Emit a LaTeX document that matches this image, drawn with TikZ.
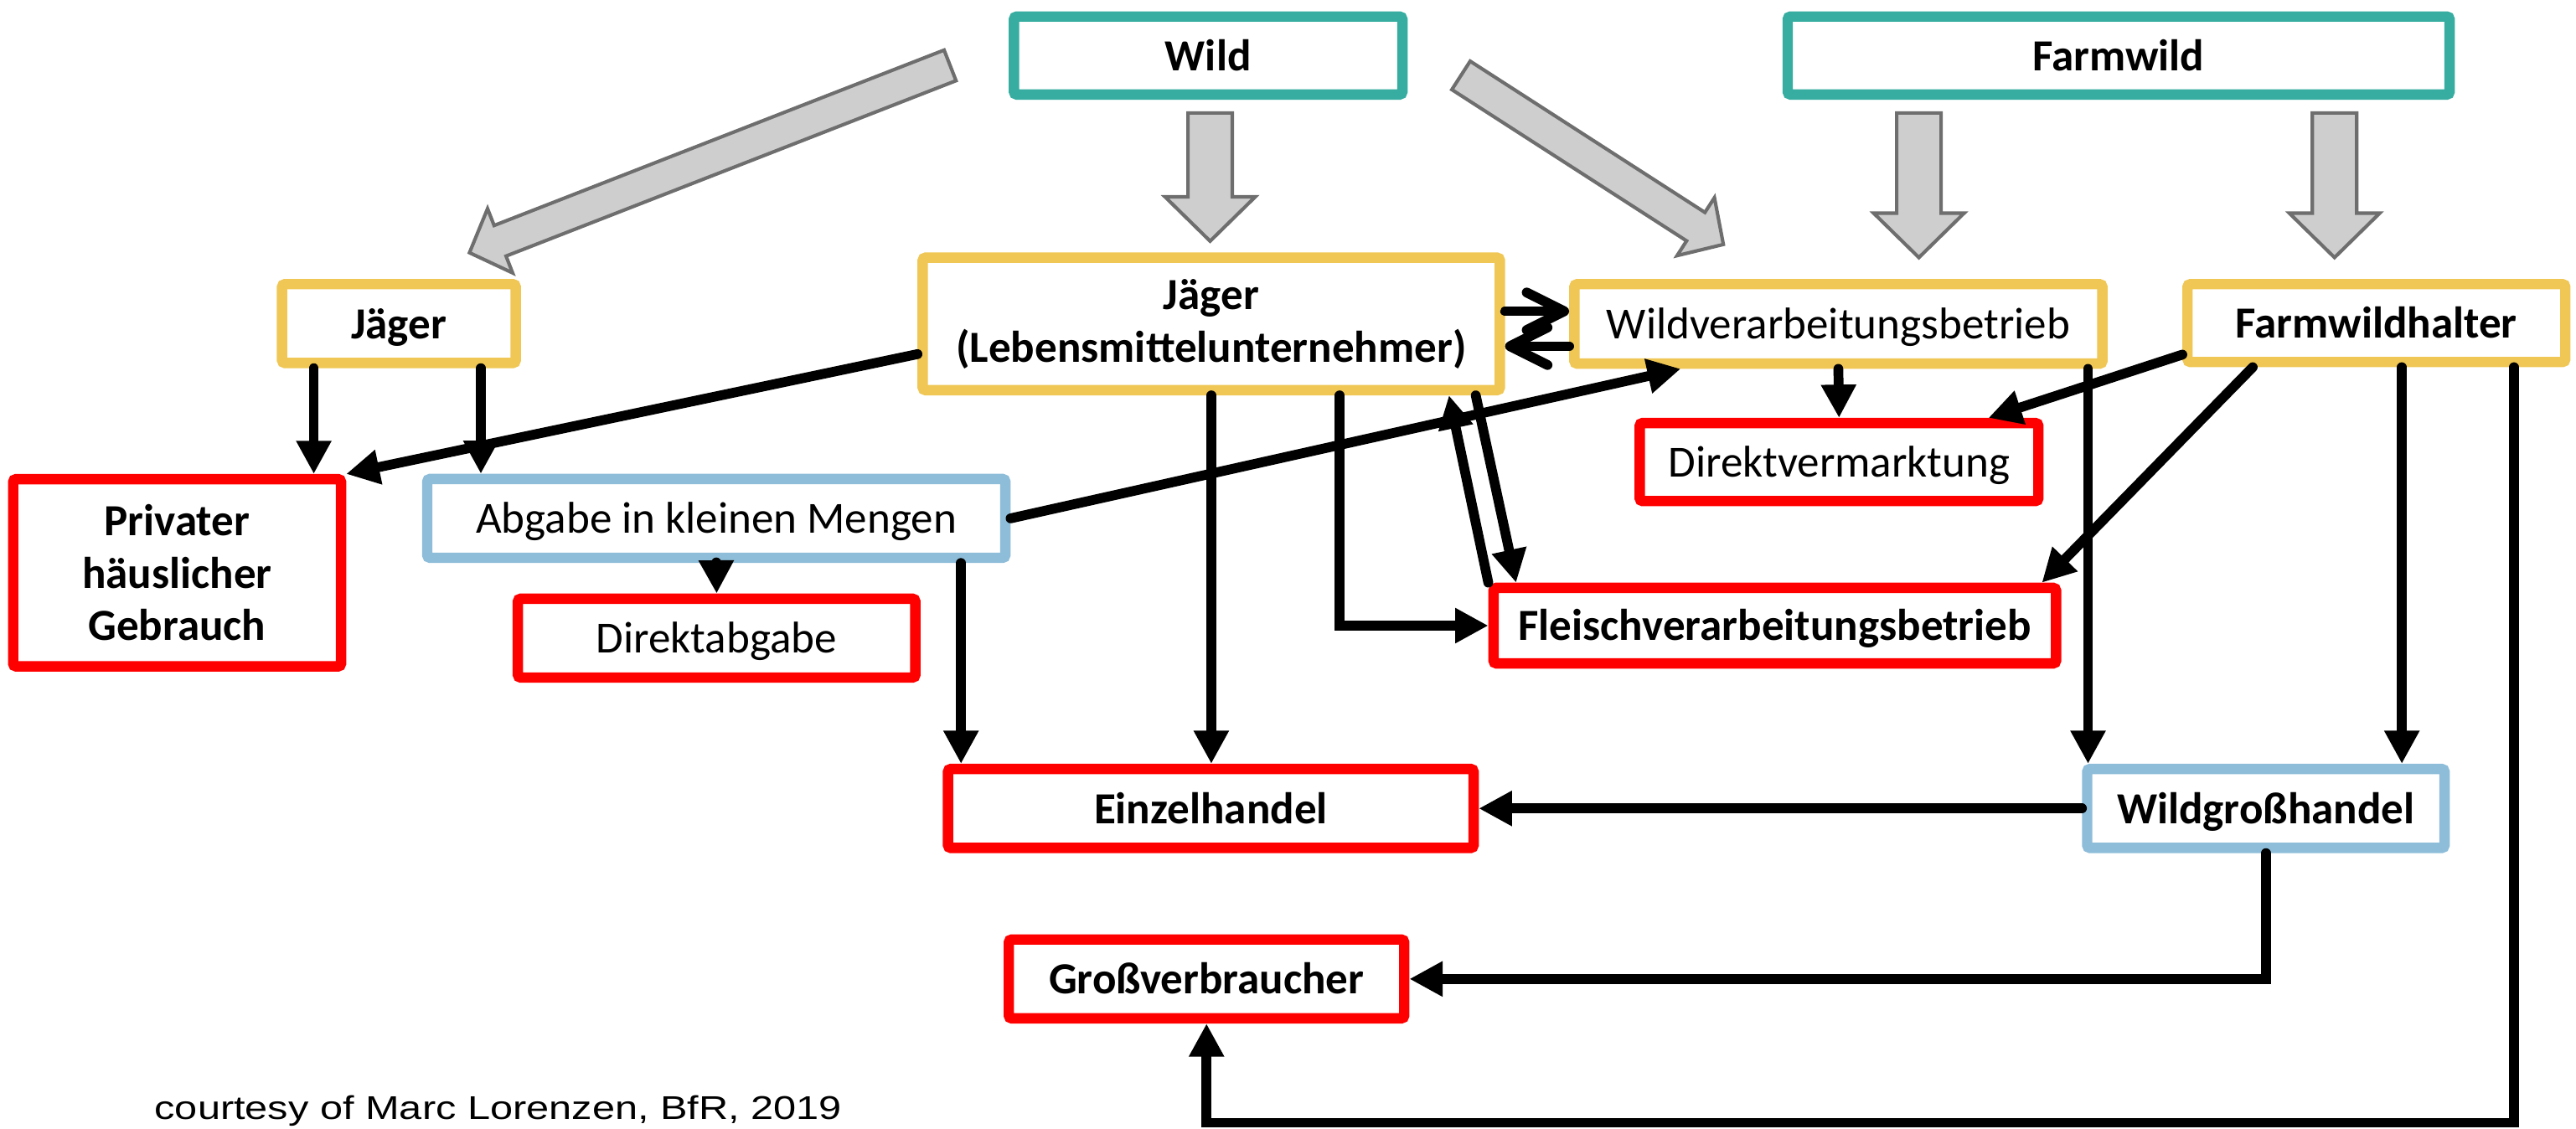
\documentclass[tikz,border=0pt]{standalone}
\usepackage{fontspec}
\setmainfont{Carlito}
\newfontfamily\notefont[FakeStretch=1.24]{Liberation Sans}
\usetikzlibrary{arrows.meta}
\definecolor{wildteal}{HTML}{36ADA0}
\definecolor{actoryellow}{HTML}{F0C755}
\definecolor{outletred}{HTML}{FF0000}
\definecolor{tradeblue}{HTML}{8EBDD9}
\definecolor{bigfill}{HTML}{CECECE}
\definecolor{bigedge}{HTML}{6E6E6E}
\tikzset{box/.style={draw, line width=3.6pt, rounded corners=1pt, fill=white,
           align=center, inner sep=0pt, font=\fontsize{15.4}{18.2}\selectfont},
         oneline/.style={text height=11.2pt, text depth=0.8pt},
         source/.style={box, draw=wildteal},
         actor/.style={box, draw=actoryellow},
         outlet/.style={box, draw=outletred},
         trade/.style={box, draw=tradeblue},
         flow/.style={line width=3.4pt, line cap=round, -{Triangle[length=11.5pt,width=11.5pt]}},
         swap/.style={line width=3.4pt, line cap=round, -{Straight Barb[round,length=13pt,width=13pt]}},
         bigarrow/.style={fill=bigfill, draw=bigedge, line width=1.2pt},
         }
% tail, angle, length, half shaft, half head, head length
\newcommand{\grayarrow}[6]{\draw[bigarrow, shift={#1}, rotate=#2]
  (0,-#4) -- (#3-#6,-#4) -- (#3-#6,-#5) -- (#3,0) -- (#3-#6,#5) -- (#3-#6,#4) -- (0,#4) -- cycle;}

\begin{document}
\begin{tikzpicture}[x=0.02cm, y=-0.02cm]
\useasboundingbox (0,0) rectangle (1568,687);
% origin
\node[source, oneline, minimum width=4.73cm, minimum height=0.95cm] (wild) at (735.4,33.8) {\textbf{Wild}};
\node[source, oneline, minimum width=8.06cm, minimum height=0.95cm] (farmwild) at (1289.6,33.8) {\textbf{Farmwild}};
\grayarrow{(578.3,39.8)}{201.3}{314}{10}{21}{20}
\grayarrow{(736.6,68.8)}{-90}{78}{13.5}{27.5}{27}
\grayarrow{(889.3,45.9)}{-32.8}{190}{10.3}{21}{20}
\grayarrow{(1168,68.8)}{-90}{88}{13.5}{27.5}{27}
\grayarrow{(1421,68.8)}{-90}{88}{13.5}{27.5}{27}
% actors
\node[actor, oneline, minimum width=2.846cm, minimum height=0.96cm] (jaeger) at (242.8,197) {\textbf{Jäger}};
\node[actor, minimum width=7.028cm, minimum height=1.614cm] (jlu) at (737.3,197.2) {\textbf{Jäger}\\\textbf{(Lebensmittelunternehmer)}};
\node[actor, oneline, minimum width=6.43cm, minimum height=0.968cm] (wvb) at (1119,197.2) {Wildverarbeitungsbetrieb};
\node[actor, oneline, minimum width=4.6cm, minimum height=0.948cm] (fwh) at (1446.5,196.7) {\textbf{Farmwildhalter}};
% outlets
\node[outlet, minimum width=3.992cm, minimum height=2.28cm] (priv) at (107.8,348.7) {\textbf{Privater}\\\textbf{häuslicher}\\\textbf{Gebrauch}};
\node[trade, oneline, minimum width=7.04cm, minimum height=0.96cm] (abg) at (436,315.6) {Abgabe in kleinen Mengen};
\node[outlet, oneline, minimum width=4.84cm, minimum height=0.96cm] (dab) at (436.2,388.5) {Direktabgabe};
\node[outlet, oneline, minimum width=4.854cm, minimum height=0.95cm] (dvm) at (1119.4,281.3) {Direktvermarktung};
\node[outlet, oneline, minimum width=6.85cm, minimum height=0.92cm] (fvb) at (1080.3,380.9) {\textbf{Fleischverarbeitungsbetrieb}};
\node[outlet, oneline, minimum width=6.4cm, minimum height=0.962cm] (ezh) at (737,492.2) {\textbf{Einzelhandel}};
\node[trade, oneline, minimum width=4.352cm, minimum height=0.962cm] (wgh) at (1379.2,492.2) {\textbf{Wildgroßhandel}};
\node[outlet, oneline, minimum width=4.814cm, minimum height=0.96cm] (gvb) at (734.4,596) {\textbf{Großverbraucher}};
\coordinate (floor) at (734.4,683.5);
\node[anchor=base west, inner sep=0pt, font=\notefont\fontsize{11.4}{13}\selectfont] (credit) at (93.8,681.6) {courtesy of Marc Lorenzen, BfR, 2019};
% Jäger
\draw[flow] ([xshift=-1.036cm]jaeger.south) coordinate (p1) -- (p1 |- priv.north);
\draw[flow] ([xshift=0.998cm]jaeger.south) coordinate (p2) -- (p2 |- abg.north);
% Jäger (Lebensmittelunternehmer)
\draw[flow] ([yshift=-0.368cm]jlu.west) -- (priv.north east);
\draw[swap] ([yshift=0.154cm]jlu.east) -- ([yshift=0.154cm]wvb.west);
\draw[swap] ([yshift=-0.272cm]wvb.west) -- ([yshift=-0.272cm]jlu.east);
\draw[flow] (jlu.south) -- (jlu.south |- ezh.north);
\draw[flow] ([xshift=1.564cm]jlu.south) |- (fvb.west);
\draw[flow] ([xshift=3.22cm]jlu.south) -- ([xshift=-3.15cm]fvb.north);
\draw[flow] (fvb.north west) -- ([xshift=2.894cm]jlu.south);
% Abgabe
\draw[flow] (abg.east) -- ([xshift=-1.92cm]wvb.south);
\draw[flow] (abg.south) -- (dab.north);
\draw[flow] ([xshift=2.98cm]abg.south) coordinate (p3) -- (p3 |- ezh.north);
% Wildverarbeitungsbetrieb
\draw[flow] (wvb.south) -- (dvm.north);
\draw[flow] ([xshift=3.04cm]wvb.south) coordinate (p4) -- (p4 |- wgh.north);
% Farmwildhalter
\draw[flow] ([yshift=-0.384cm]fwh.west) -- ([xshift=1.82cm]dvm.north);
\draw[flow] ([xshift=-1.506cm]fwh.south) -- ([xshift=3.252cm]fvb.north);
\draw[flow] ([xshift=0.31cm]fwh.south) coordinate (p5) -- (p5 |- wgh.north);
\draw[flow] ([xshift=1.674cm]fwh.south) |- (floor) -- (gvb.south);
% Wildgroßhandel
\draw[flow] (wgh.west) -- (ezh.east);
\draw[flow] (wgh.south) |- (gvb.east);
\end{tikzpicture}
\end{document}
